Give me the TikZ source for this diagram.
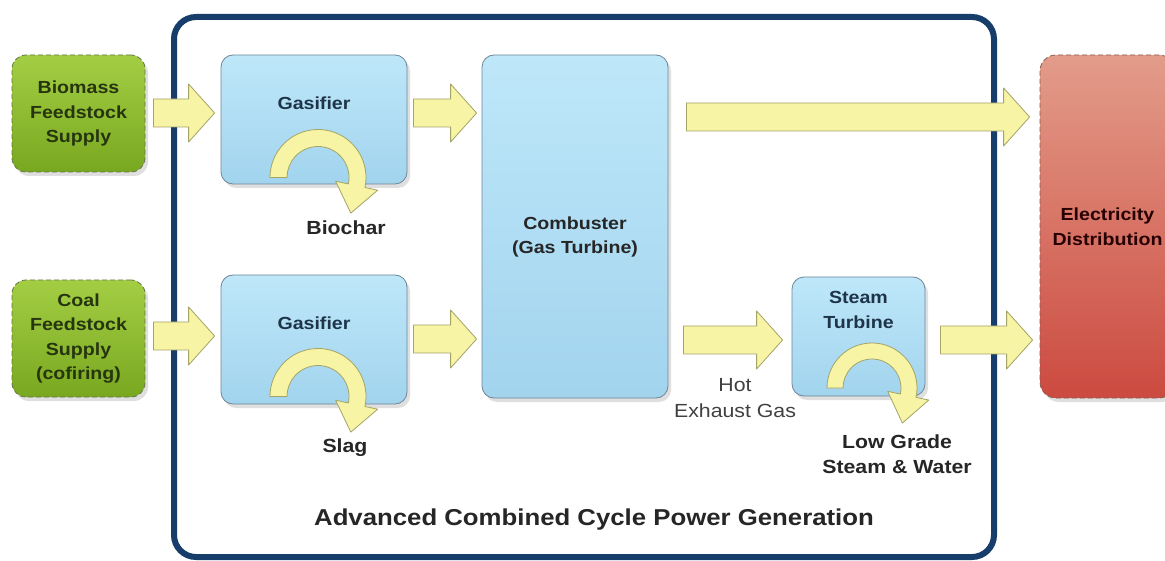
\documentclass[tikz,border=0pt]{standalone}
\usepackage{fontspec}
\setmainfont[FakeStretch=1.12]{Liberation Sans}
\usetikzlibrary{positioning,calc,shadows}

\definecolor{framenavy}{HTML}{173D6B}
\definecolor{feedtop}{HTML}{A3CE44}
\definecolor{feedbot}{HTML}{78A820}
\definecolor{feededge}{HTML}{66724A}
\definecolor{feedtext}{HTML}{27350F}
\definecolor{unittop}{HTML}{BEE7F9}
\definecolor{unitbot}{HTML}{A2D4EE}
\definecolor{unitedge}{HTML}{6E8796}
\definecolor{unittext}{HTML}{1E3448}
\definecolor{gridtop}{HTML}{E39C8A}
\definecolor{gridbot}{HTML}{CC4A40}
\definecolor{gridedge}{HTML}{8A5A55}
\definecolor{flowfill}{HTML}{F7F4A6}
\definecolor{flowedge}{HTML}{A4A467}

\tikzset{
  feed/.style={draw=feededge, line width=0.8pt, dash pattern=on 5pt off 3pt,
    rounded corners=14pt, top color=feedtop, bottom color=feedbot,
    minimum width=133pt, minimum height=117pt, align=center, text=feedtext,
    font=\bfseries\fontsize{17.5}{24.5}\selectfont,
    drop shadow={shadow xshift=3pt, shadow yshift=-4pt, opacity=0.25}},
  unit/.style={draw=unitedge, line width=0.8pt, rounded corners=12pt,
    top color=unittop, bottom color=unitbot,
    drop shadow={shadow xshift=3pt, shadow yshift=-4pt, opacity=0.25}},
  grid/.style={feed, draw=gridedge, top color=gridtop, bottom color=gridbot,
    rounded corners=16pt, text=black!85!red},
  unitlbl/.style={font=\bfseries\fontsize{17.5}{24.5}\selectfont, text=unittext, align=center},
  outlbl/.style={font=\bfseries\fontsize{19}{25}\selectfont, text=black!85, align=center},
  flow/.style={draw=flowedge, fill=flowfill, line width=0.8pt, line join=round},
}

% block arrow between two nodes at height #3
\newcommand{\flowarrow}[5]{%
  \draw[flow] let \p1=($(#1.east)+(#4,0)$), \p2=($(#2.west)-(#5,0)$), \p3=(0,#3) in
    (\x1,\y3-14pt) -- (\x2-26pt,\y3-14pt) -- (\x2-26pt,\y3-29pt) -- (\x2,\y3)
    -- (\x2-26pt,\y3+29pt) -- (\x2-26pt,\y3+14pt) -- (\x1,\y3+14pt) -- cycle;}

% round arrow inside a unit
\newcommand{\cyclearrow}[3]{%
  \pgfmathsetmacro{\cmid}{(#2+#3)/2}
  \pgfmathsetmacro{\cout}{#2+13}
  \pgfmathsetmacro{\cin}{#3-13}
  \draw[flow] ($(#1)+(180:#3)$) -- ($(#1)+(180:#2)$)
    arc[start angle=180, end angle=372, radius=#2]
    -- ($(#1)+(372:\cout)$) -- ($(#1)+(372:\cmid)+(462:28)$)
    -- ($(#1)+(372:\cin)$) -- ($(#1)+(372:#3)$)
    arc[start angle=372, end angle=180, radius=#3] -- cycle;}

\begin{document}
\begin{tikzpicture}[x=1pt, y=-1pt]
\useasboundingbox (0,0) rectangle (1165,561);
\clip (0,0) rectangle (1165,561);
\fill[white] (0,0) rectangle (1165,561);

% plant frame
\draw[framenavy, line width=6pt, rounded corners=22pt] (174,17) rectangle (994,557);
\node[font=\bfseries\fontsize{23}{27}\selectfont, text=black!85] (title) at (594,520)
  {Advanced Combined Cycle Power Generation};

% feedstocks
\node[feed] (bio) at (78.5,113.5) {Biomass\\Feedstock\\Supply};
\node[feed] (coal) at (78.5,338.5) {Coal\\Feedstock\\Supply\\(cofiring)};

% units
\node[unit, minimum width=186pt, minimum height=129pt] (gas1) at (314,119.5) {};
\node[unit, minimum width=186pt, minimum height=129pt] (gas2) at (314,339.5) {};
\node[unit, minimum width=186pt, minimum height=343pt] (comb) at (575,226.5) {};
\node[unit, minimum width=133pt, minimum height=119pt] (steam) at (858.5,336.5) {};
\node[grid, minimum width=135pt, minimum height=343pt] (elec) at (1107.5,226.5) {Electricity\\Distribution};

\node[unitlbl] at ($(gas1)+(0,-16.5)$) {Gasifier};
\node[unitlbl] at ($(gas2)+(0,-16.5)$) {Gasifier};
\node[unitlbl, text=black!85] at ($(comb)+(0,10.5)$) {Combuster\\(Gas Turbine)};
\node[unitlbl] at ($(steam)+(0,-26.5)$) {Steam\\Turbine};

% by-products
\coordinate (loop1) at ($(gas1)+(4,58)$);
\coordinate (loop2) at ($(gas2)+(4,57)$);
\coordinate (loop3) at ($(steam)+(13.5,51.5)$);
\cyclearrow{loop1}{48}{31}
\cyclearrow{loop2}{48}{31}
\cyclearrow{loop3}{45}{29}
\node[outlbl] (char) at (346,228) {Biochar};
\node[outlbl] (slag) at (345,448) {Slag};
\node[outlbl] (lowgrade) at (897,454.5) {Low Grade\\Steam \& Water};

% flows
\flowarrow{bio}{gas1}{113}{8}{6}
\flowarrow{gas1}{comb}{113}{6}{5}
\flowarrow{coal}{gas2}{336}{8}{6}
\flowarrow{gas2}{comb}{339}{6}{5}
\flowarrow{comb}{elec}{117}{18}{10}
\flowarrow{comb}{steam}{340}{15}{9}
\flowarrow{steam}{elec}{340}{15}{7}
\node[font=\fontsize{19}{26}\selectfont, text=black!75, align=center] (exhaust) at (735,398)
  {Hot\\Exhaust Gas};
\end{tikzpicture}
\end{document}
